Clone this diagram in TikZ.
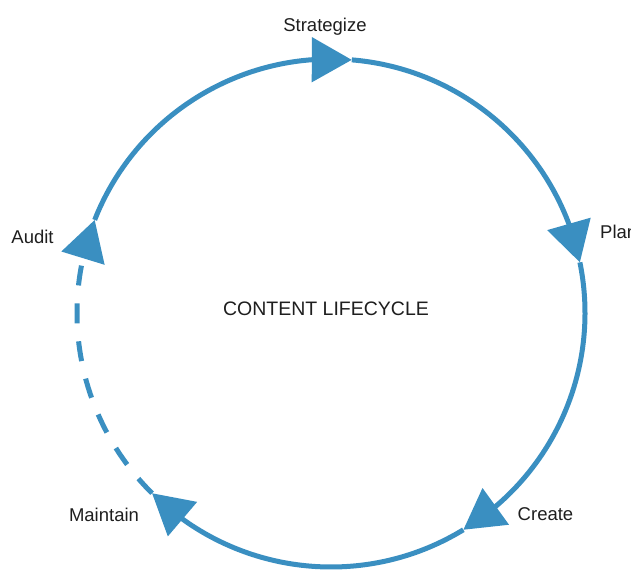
\documentclass[tikz,border=0pt]{standalone}
\usepackage{fontspec}
\setmainfont{Liberation Sans}
\usetikzlibrary{arrows.meta, bending}
\definecolor{cycleblue}{RGB}{58,143,193}
\definecolor{labelgray}{RGB}{30,30,30}

\begin{document}
\begin{tikzpicture}[x = 1pt, y = 1pt,
            cyclearc/.style = {draw=cycleblue, line width=5pt,
                -{Triangle[length=40pt, width=44pt, flex]}},
            gapped/.style = {dash pattern=on 20pt off 18pt},
            stage/.style = {anchor=base, inner sep=0pt, text=labelgray,
                font=\fontsize{18.5}{20}\selectfont},
            heading/.style = {anchor=base, inner sep=0pt, text=labelgray,
                font=\fontsize{19.5}{22}\selectfont}]
            \useasboundingbox (-331,-257) rectangle (300,313);
            % points where the tips sit on the ring
            \coordinate (strategize) at (85.3:254);
            \coordinate (plan) at (11.5:254);
            \coordinate (create) at (-58.6:254);
            \coordinate (maintain) at (-134.8:254);
            \coordinate (audit) at (158.5:254);
            \draw[cyclearc] (audit) arc[start angle=158.5, end angle=85.3, radius=254pt];
            \draw[cyclearc] (strategize) arc[start angle=85.3, end angle=11.5, radius=254pt];
            \draw[cyclearc] (plan) arc[start angle=11.5, end angle=-58.6, radius=254pt];
            \draw[cyclearc] (create) arc[start angle=-58.6, end angle=-134.8, radius=254pt];
            \draw[cyclearc, gapped] (maintain) arc[start angle=225.2, end angle=158.5, radius=254pt];
            % labels
            \node[stage] (strategizetext) at (-6,281) {Strategize};
            \node[stage, anchor=base west] (plantext) at (269,75) {Plan};
            \node[stage] (createtext) at (214.5,-207) {Create};
            \node[stage] (maintaintext) at (-227,-208) {Maintain};
            \node[stage] (audittext) at (-298.5,70) {Audit};
            \node[heading] (lifecycle) at (-5,-2) {CONTENT LIFECYCLE};
        \end{tikzpicture}
\end{document}
